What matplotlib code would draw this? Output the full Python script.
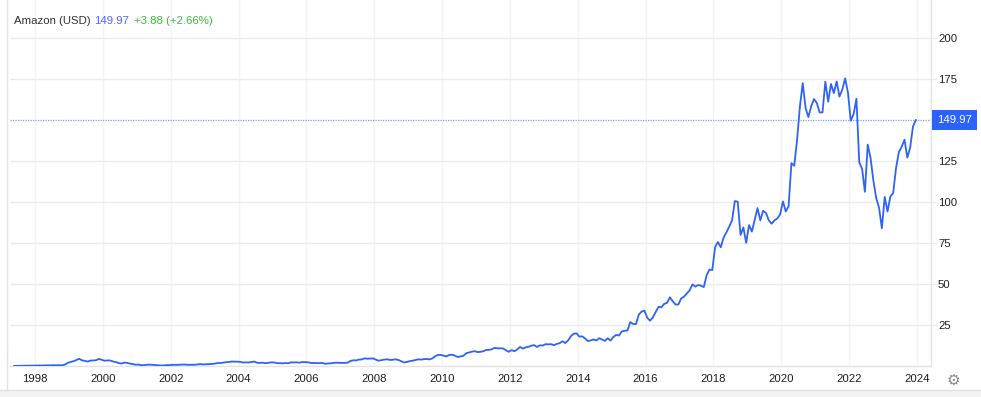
import numpy as np
import pandas as pd
import matplotlib
matplotlib.use("Agg")
import matplotlib.pyplot as plt
from matplotlib.lines import Line2D
from matplotlib.patches import Rectangle

plt.rcParams['font.family'] = ['Liberation Sans', 'DejaVu Sans']

# monthly closes, split adjusted (USD), May 1997 .. Dec 2023
close = [
    0.075, 0.095, 0.12, 0.13, 0.20, 0.19, 0.21, 0.25,                     # 1997
    0.24, 0.30, 0.35, 0.40, 0.41, 0.41, 0.49, 0.40, 0.50, 0.41, 0.90, 1.9,   # 1998
    2.5, 2.9, 3.6, 4.4, 3.5, 3.1, 2.7, 3.3, 3.4, 3.5, 4.3, 3.8,           # 1999
    3.2, 3.4, 3.35, 2.75, 2.4, 1.8, 1.5, 2.07, 1.9, 1.44, 1.2, 0.78,      # 2000
    0.87, 0.51, 0.51, 0.79, 0.84, 0.71, 0.62, 0.45, 0.30, 0.35, 0.56, 0.54,  # 2001
    0.71, 0.70, 0.72, 0.84, 0.91, 0.81, 0.72, 0.74, 0.80, 0.97, 1.17, 0.94,  # 2002
    1.09, 1.10, 1.30, 1.43, 1.80, 1.82, 2.08, 2.31, 2.42, 2.72, 2.70, 2.63,  # 2003
    2.52, 2.15, 2.16, 2.18, 2.43, 2.72, 1.95, 1.90, 2.04, 1.70, 1.98, 2.21,  # 2004
    2.16, 1.76, 1.71, 1.62, 1.78, 1.65, 2.25, 2.14, 2.27, 2.00, 2.42, 2.36,  # 2005
    2.26, 1.87, 1.83, 1.76, 1.73, 1.93, 1.35, 1.54, 1.61, 1.90, 2.02, 1.97,  # 2006
    1.88, 1.95, 1.99, 3.07, 3.46, 3.42, 3.92, 4.00, 4.66, 4.46, 4.53, 4.63,  # 2007
    3.89, 3.23, 3.57, 3.93, 4.08, 3.67, 3.82, 4.05, 3.64, 2.86, 2.13, 2.56,  # 2008
    2.94, 3.24, 3.67, 4.03, 3.90, 4.18, 4.29, 4.06, 4.67, 5.94, 6.80, 6.73,  # 2009
    6.27, 5.92, 6.79, 6.86, 6.27, 5.46, 5.89, 6.24, 7.85, 8.26, 8.77, 9.00,  # 2010
    8.48, 8.66, 9.00, 9.79, 9.84, 10.2, 11.1, 10.75, 10.8, 10.7, 9.6, 8.66,  # 2011
    9.72, 8.98, 10.1, 11.6, 10.6, 11.4, 11.7, 12.4, 12.7, 11.6, 12.6, 12.5,  # 2012
    13.3, 13.2, 13.3, 12.7, 13.5, 13.9, 15.1, 14.0, 15.6, 18.2, 19.7, 19.9,  # 2013
    17.9, 18.1, 16.8, 15.2, 15.6, 16.2, 15.6, 16.95, 16.1, 15.3, 16.9, 15.5,  # 2014
    17.7, 19.0, 18.6, 21.1, 21.5, 21.7, 26.8, 25.6, 25.6, 31.3, 33.2, 33.8,  # 2015
    29.4, 27.6, 29.7, 33.0, 36.1, 35.8, 37.9, 38.5, 41.9, 39.5, 37.5, 37.5,  # 2016
    41.2, 42.3, 44.3, 46.2, 49.7, 48.4, 49.4, 49.0, 48.1, 55.3, 58.8, 58.5,  # 2017
    72.5, 75.6, 72.4, 78.3, 81.5, 85.0, 88.9, 100.6, 100.2, 79.9, 84.5, 75.1,  # 2018
    85.9, 82.0, 89.0, 96.3, 88.8, 94.7, 93.3, 88.8, 86.8, 88.8, 90.0, 92.4,  # 2019
    100.4, 94.2, 97.5, 123.7, 122.1, 137.9, 158.2, 172.5, 157.4, 151.8, 158.4, 162.8,  # 2020
    160.3, 154.6, 154.7, 173.4, 161.2, 172.0, 166.4, 173.5, 164.3, 168.6, 175.4, 166.7,  # 2021
    149.6, 153.6, 163.0, 124.3, 120.2, 106.2, 135.0, 126.8, 113.0, 102.4, 96.5, 84.0,  # 2022
    103.1, 94.2, 103.3, 105.5, 120.6, 130.4, 133.7, 138.0, 127.1, 133.1, 146.1, 149.97,  # 2023
]
dates = pd.date_range('1997-05-01', periods=len(close), freq='MS')
t = dates.year + (dates.month - 1) / 12.0 + 0.05

last = 149.97
change = '+3.88 (+2.66%)'
y_ticks = [25, 50, 75, 100, 125, 175, 200]
x_years = list(range(1998, 2025, 2))

W, H = 981, 397
fig = plt.figure(figsize=(W / 100, H / 100), dpi=100)
ax = fig.add_axes([10 / W, 31 / H, 921 / W, 366 / H])

blue = '#2f63f6'
ax.plot(t, close, color=blue, lw=1.3, solid_joinstyle='round', zorder=3)
ax.axhline(last, color='#7d9cff', lw=0.9, ls=(0, (1, 1)), zorder=2)

ax.set_xlim(1997.263, 2024.415)
ax.set_ylim(0, 223.2)

ax.set_yticks(y_ticks)
ax.set_xticks(x_years)
ax.set_xticklabels([str(y) for y in x_years])
ax.yaxis.tick_right()
ax.grid(axis='y', color='#ebebeb', lw=1)
ax.grid(axis='x', color='#f4f4f4', lw=1)
ax.set_axisbelow(True)
ax.tick_params(axis='y', length=4, color='#ebebeb', labelcolor='#1e1e1e',
               labelsize=8.2, pad=1)
ax.tick_params(axis='x', length=0, labelcolor='#1e1e1e', labelsize=8.2, pad=6)
for s in ['top', 'left']:
    ax.spines[s].set_visible(False)
for s in ['bottom', 'right']:
    ax.spines[s].set_color('#e3e3e3')
    ax.spines[s].set_linewidth(1)

# last price badge
ax.annotate(f'{last:.2f}', xy=(1, last), xycoords=('axes fraction', 'data'),
            xytext=(6, 0), textcoords='offset pixels', ha='left', va='center',
            color='white', fontsize=8.2, zorder=5,
            bbox=dict(boxstyle='square,pad=0.45', fc='#2962ff', ec='none'),
            annotation_clip=False)

# title pieces
fig.text(14 / W, 1 - 21 / H, 'Amazon (USD)', color='#333333', fontsize=8.2, va='center')
fig.text(94 / W, 1 - 21 / H, f'{last:.2f}', color='#4d66ff', fontsize=8.2, va='center')
fig.text(134 / W, 1 - 21 / H, change, color='#3cba3c', fontsize=8.2, va='center')

# frame bits: left border, bottom strip, settings icon
fig.add_artist(Line2D([7 / W, 7 / W], [7 / H, 1], color='#e3e3e3', lw=1))
fig.add_artist(Rectangle((0, 0), 1, 7 / H, transform=fig.transFigure,
                         fc='#f3f3f3', ec='none'))
fig.add_artist(Line2D([0, 1], [7 / H, 7 / H], color='#e3e3e3', lw=1))
fig.text(953 / W, 1 - 380 / H, '\u2699', family='DejaVu Sans', color='#888888',
         fontsize=11, ha='center', va='center')

fig.savefig('out.png', dpi=100)
